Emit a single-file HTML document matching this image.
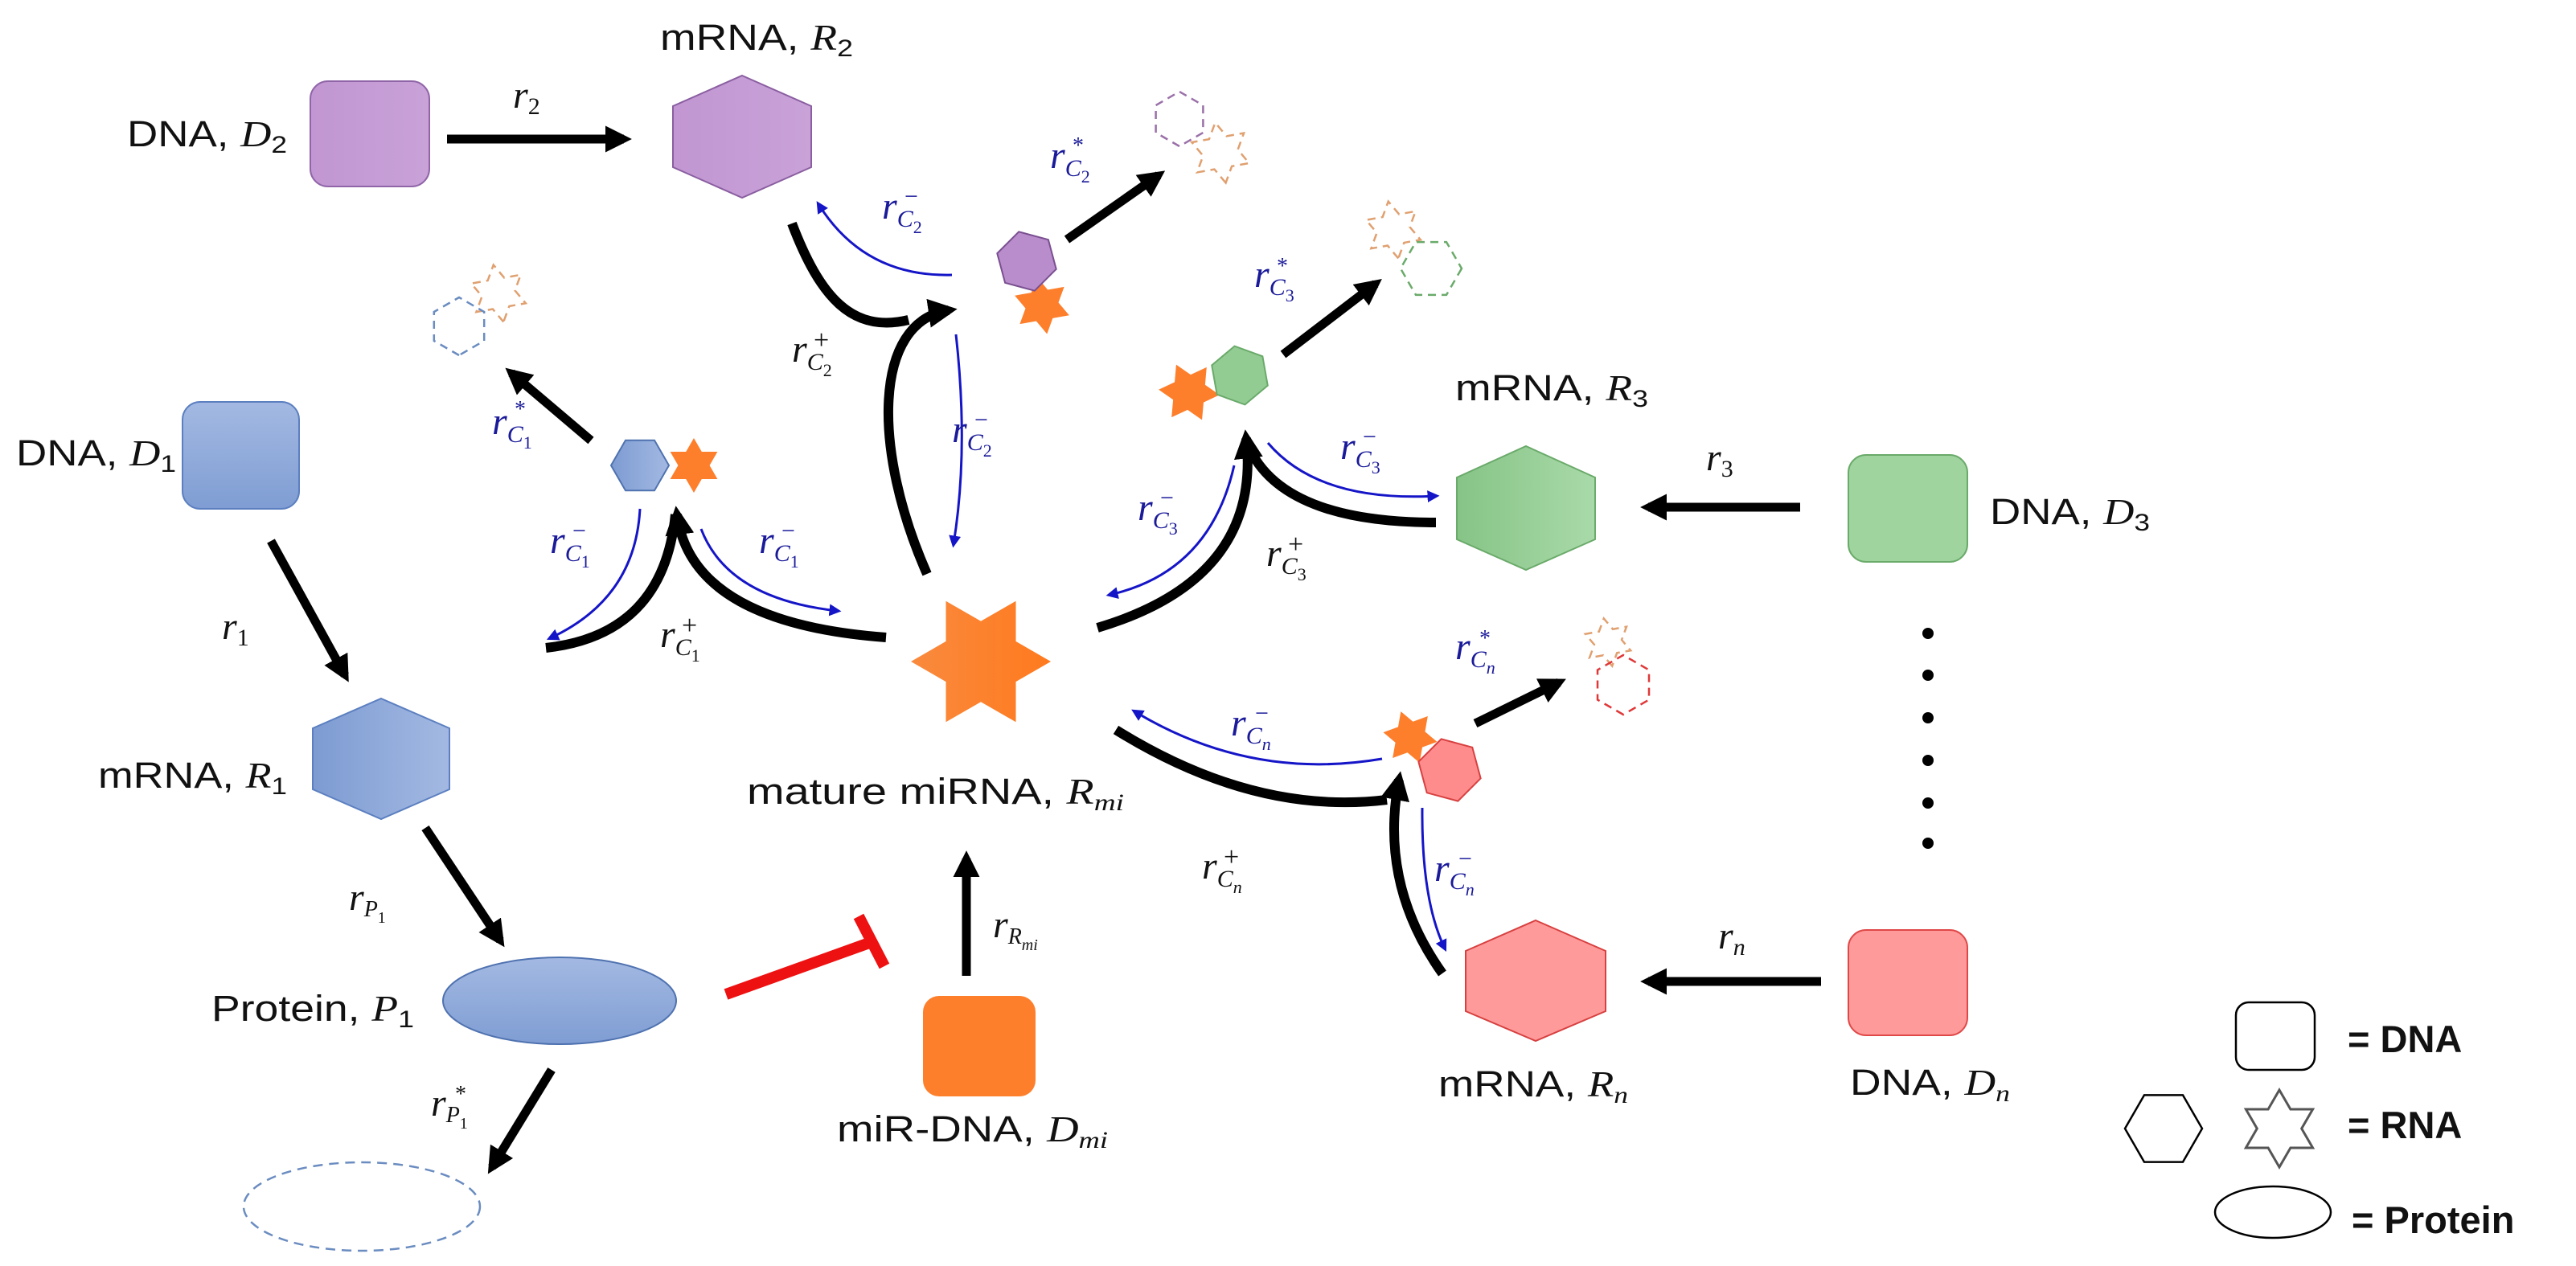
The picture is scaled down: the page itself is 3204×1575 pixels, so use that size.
<!DOCTYPE html>
<html><head><meta charset="utf-8"><style>
html,body{margin:0;padding:0;background:#fff;}
svg{display:block;}
.t{font-family:"Liberation Sans",sans-serif;font-size:45px;fill:#111;}
.m{font-family:"Liberation Serif",serif;font-style:italic;}
.lg{font-family:"Liberation Sans",sans-serif;font-size:47px;font-weight:bold;fill:#111;}
</style></head><body>
<svg width="3204" height="1575" viewBox="0 0 3204 1575" xmlns="http://www.w3.org/2000/svg">
<defs>
<marker id="ab" viewBox="0 0 10 10" refX="7" refY="5" markerWidth="3" markerHeight="3" orient="auto"><path d="M0,0L10,5L0,10z" fill="#000"/></marker>
<marker id="au" viewBox="0 0 10 10" refX="7" refY="5" markerWidth="5" markerHeight="5" orient="auto"><path d="M0,0L10,5L0,10z" fill="#1515c8"/></marker>
<linearGradient id="gb" x1="0" y1="0" x2="1" y2="0"><stop offset="0" stop-color="#7d9bd2"/><stop offset="1" stop-color="#a3b9e2"/></linearGradient>
<linearGradient id="gbv" x1="0" y1="0" x2="0" y2="1"><stop offset="0" stop-color="#a3b9e2"/><stop offset="1" stop-color="#7f9dd3"/></linearGradient>
<linearGradient id="gg" x1="0" y1="0" x2="1" y2="0"><stop offset="0" stop-color="#86c486"/><stop offset="1" stop-color="#a9d9a9"/></linearGradient>
<linearGradient id="gp" x1="0" y1="0" x2="1" y2="0"><stop offset="0" stop-color="#c196d2"/><stop offset="1" stop-color="#c9a2d8"/></linearGradient>
<linearGradient id="go" x1="0" y1="0" x2="1" y2="0"><stop offset="0" stop-color="#f98a3e"/><stop offset="1" stop-color="#ff7a1e"/></linearGradient>
</defs>

<!-- DNA boxes -->
<rect x="386" y="101" width="148" height="131" rx="22" fill="url(#gp)" stroke="#9065a8" stroke-width="2"/>
<rect x="227" y="500" width="145" height="133" rx="22" fill="url(#gbv)" stroke="#5b7fc0" stroke-width="2"/>
<rect x="2299" y="566" width="148" height="133" rx="22" fill="#9fd49f" stroke="#6aaa6a" stroke-width="2"/>
<rect x="2299" y="1157" width="148" height="131" rx="22" fill="#ff9a9a" stroke="#e04848" stroke-width="2"/>
<rect x="1148" y="1239" width="140" height="125" rx="20" fill="#fd7f2c"/>

<!-- mRNA hexes -->
<polygon points="923,94 1009,132 1009,208 923,246 837,208 837,132" fill="url(#gp)" stroke="#8a5ea0" stroke-width="2"/>
<polygon points="474,869 559,906 559,982 474,1019 389,982 389,906" fill="url(#gb)" stroke="#5b7fc0" stroke-width="2"/>
<polygon points="1898,555 1984,594 1984,671 1898,709 1812,671 1812,594" fill="url(#gg)" stroke="#6aaa6a" stroke-width="2"/>
<polygon points="1910,1145 1997,1183 1997,1258 1910,1295 1823,1258 1823,1183" fill="#ff9a9a" stroke="#d84040" stroke-width="2"/>

<!-- protein -->
<ellipse cx="696" cy="1245" rx="145" ry="54" fill="url(#gbv)" stroke="#4f72b0" stroke-width="2"/>
<ellipse cx="450" cy="1501" rx="147" ry="55" fill="none" stroke="#6a8cc0" stroke-width="2.5" stroke-dasharray="12 8"/>

<!-- miRNA star -->
<polygon transform="translate(1220,823)" points="87,0 43.5,25.1 43.5,75.3 0,50.2 -43.5,75.3 -43.5,25.1 -87,0 -43.5,-25.1 -43.5,-75.3 0,-50.2 43.5,-75.3 43.5,-25.1" fill="url(#go)"/>

<!-- complexes -->
<polygon transform="translate(796,579)" points="36,0 18,31.2 -18,31.2 -36,0 -18,-31.2 18,-31.2" fill="url(#gb)" stroke="#4f72b0" stroke-width="2"/>
<polygon transform="translate(863,579) rotate(90)" points="34,0 17,9.8 17,29.4 0,19.6 -17,29.4 -17,9.8 -34,0 -17,-9.8 -17,-29.4 0,-19.6 17,-29.4 17,-9.8" fill="#fd7f2c"/>
<polygon transform="translate(1296,380) rotate(80)" points="36,0 18,10.4 18,31.2 0,20.8 -18,31.2 -18,10.4 -36,0 -18,-10.4 -18,-31.2 0,-20.8 18,-31.2 18,-10.4" fill="#fd7f2c"/>
<polygon transform="translate(1277,325) rotate(15)" points="38,0 19,32.9 -19,32.9 -38,0 -19,-32.9 19,-32.9" fill="#b98ccc" stroke="#7a4f90" stroke-width="2"/>
<polygon transform="translate(1479,488) rotate(5)" points="38,0 19,11 19,32.9 0,21.9 -19,32.9 -19,11 -38,0 -19,-11 -19,-32.9 0,-21.9 19,-32.9 19,-11" fill="#fd7f2c"/>
<polygon transform="translate(1542,467) rotate(20)" points="37,0 18.5,32 -18.5,32 -37,0 -18.5,-32 18.5,-32" fill="#93cc93" stroke="#6aaa6a" stroke-width="2"/>
<polygon transform="translate(1754,917) rotate(10)" points="34,0 17,9.8 17,29.4 0,19.6 -17,29.4 -17,9.8 -34,0 -17,-9.8 -17,-29.4 0,-19.6 17,-29.4 17,-9.8" fill="#fd7f2c"/>
<polygon transform="translate(1803,958) rotate(15)" points="40,0 20,34.6 -20,34.6 -40,0 -20,-34.6 20,-34.6" fill="#ff8c8c" stroke="#d84040" stroke-width="2"/>

<!-- dashed degraded complexes -->
<g fill="none" stroke-width="2.5" stroke-dasharray="10 7">
<polygon transform="translate(620,365) rotate(80)" points="36,0 18,10.4 18,31.2 0,20.8 -18,31.2 -18,10.4 -36,0 -18,-10.4 -18,-31.2 0,-20.8 18,-31.2 18,-10.4" stroke="#e0a070"/>
<polygon transform="translate(571,406) rotate(90)" points="36,0 18,31.2 -18,31.2 -36,0 -18,-31.2 18,-31.2" stroke="#6a8cc0"/>
<polygon transform="translate(1467,148) rotate(90)" points="34,0 17,29.4 -17,29.4 -34,0 -17,-29.4 17,-29.4" stroke="#9a70a8"/>
<polygon transform="translate(1518,190) rotate(80)" points="38,0 19,11 19,32.9 0,21.9 -19,32.9 -19,11 -38,0 -19,-11 -19,-32.9 0,-21.9 19,-32.9 19,-11" stroke="#e0a070"/>
<polygon transform="translate(1733,286) rotate(80)" points="36,0 18,10.4 18,31.2 0,20.8 -18,31.2 -18,10.4 -36,0 -18,-10.4 -18,-31.2 0,-20.8 18,-31.2 18,-10.4" stroke="#e0a070"/>
<polygon transform="translate(1780,334)" points="38,0 19,32.9 -19,32.9 -38,0 -19,-32.9 19,-32.9" stroke="#6aaa6a"/>
<polygon transform="translate(2000,799) rotate(80)" points="30,0 15,8.7 15,26 0,17.3 -15,26 -15,8.7 -30,0 -15,-8.7 -15,-26 0,-17.3 15,-26 15,-8.7" stroke="#e0a070"/>
<polygon transform="translate(2019,852) rotate(90)" points="37,0 18.5,32 -18.5,32 -37,0 -18.5,-32 18.5,-32" stroke="#e03838"/>
</g>

<!-- straight black arrows -->
<g stroke="#000" stroke-width="11" fill="none" marker-end="url(#ab)">
<line x1="556" y1="173" x2="776" y2="173"/>
<line x1="337" y1="673" x2="429" y2="840"/>
<line x1="529" y1="1030" x2="622" y2="1170"/>
<line x1="686" y1="1331" x2="612" y2="1452"/>
<line x1="1202" y1="1214" x2="1202" y2="1068"/>
<line x1="2239" y1="631" x2="2050" y2="631"/>
<line x1="2265" y1="1221" x2="2050" y2="1221"/>
<line x1="735" y1="548" x2="636" y2="464"/>
<line x1="1327" y1="298" x2="1441" y2="218"/>
<line x1="1596" y1="441" x2="1711" y2="353"/>
<line x1="1835" y1="900" x2="1939" y2="849"/>
</g>

<!-- curved black -->
<g stroke="#000" stroke-width="12" fill="none">
<path d="M679,806 Q 825,790 840,640"/>
<path d="M1102,793 Q 860,775 842,640" marker-end="url(#ab)"/>
<path d="M985,278 C 1020,370 1060,415 1130,398"/>
<path d="M1153,714 C 1085,560 1085,400 1180,386" marker-end="url(#ab)"/>
<path d="M1786,650 Q 1600,650 1555,560"/>
<path d="M1365,781 Q 1570,720 1550,545" marker-end="url(#ab)"/>
<path d="M1388,908 Q 1560,1015 1725,995"/>
<path d="M1794,1211 Q 1715,1100 1740,970" marker-end="url(#ab)"/>
</g>

<!-- blue thin arrows -->
<g stroke="#1515c8" stroke-width="3" fill="none" marker-end="url(#au)">
<path d="M796,633 Q 790,745 684,794"/>
<path d="M872,658 Q 905,745 1042,760"/>
<path d="M1184,342 Q 1075,345 1018,254"/>
<path d="M1189,416 Q 1205,560 1186,677"/>
<path d="M1577,551 Q 1640,625 1786,617"/>
<path d="M1535,579 Q 1505,712 1380,740"/>
<path d="M1719,944 Q 1555,972 1411,885"/>
<path d="M1769,1005 Q 1768,1120 1797,1180"/>
</g>

<!-- red inhibition -->
<g stroke="#ee1111" stroke-width="14">
<line x1="903" y1="1237" x2="1084" y2="1172"/>
<line x1="1068" y1="1140" x2="1100" y2="1202"/>
</g>

<!-- dots -->
<g fill="#000">
<circle cx="2398" cy="788" r="7"/><circle cx="2398" cy="840" r="7"/><circle cx="2398" cy="893" r="7"/><circle cx="2398" cy="946" r="7"/><circle cx="2398" cy="999" r="7"/><circle cx="2398" cy="1049" r="7"/>
</g>

<!-- node labels -->
<text class="t" x="158" y="182" textLength="199" lengthAdjust="spacingAndGlyphs">DNA, <tspan class="m">D</tspan><tspan font-size="30" dy="8">2</tspan></text>
<text class="t" x="821" y="62" textLength="240" lengthAdjust="spacingAndGlyphs">mRNA, <tspan class="m">R</tspan><tspan font-size="30" dy="8">2</tspan></text>
<text class="t" x="20" y="579" textLength="199" lengthAdjust="spacingAndGlyphs">DNA, <tspan class="m">D</tspan><tspan font-size="30" dy="8">1</tspan></text>
<text class="t" x="122" y="980" textLength="235" lengthAdjust="spacingAndGlyphs">mRNA, <tspan class="m">R</tspan><tspan font-size="30" dy="8">1</tspan></text>
<text class="t" x="263" y="1270" textLength="252" lengthAdjust="spacingAndGlyphs">Protein, <tspan class="m">P</tspan><tspan font-size="30" dy="8">1</tspan></text>
<text class="t" x="929" y="1000" textLength="469" lengthAdjust="spacingAndGlyphs">mature miRNA, <tspan class="m">R</tspan><tspan class="m" font-size="30" dy="8">mi</tspan></text>
<text class="t" x="1041" y="1420" textLength="337" lengthAdjust="spacingAndGlyphs">miR-DNA, <tspan class="m">D</tspan><tspan class="m" font-size="30" dy="8">mi</tspan></text>
<text class="t" x="1810" y="498" textLength="240" lengthAdjust="spacingAndGlyphs">mRNA, <tspan class="m">R</tspan><tspan font-size="30" dy="8">3</tspan></text>
<text class="t" x="2475" y="652" textLength="199" lengthAdjust="spacingAndGlyphs">DNA, <tspan class="m">D</tspan><tspan font-size="30" dy="8">3</tspan></text>
<text class="t" x="1789" y="1364" textLength="236" lengthAdjust="spacingAndGlyphs">mRNA, <tspan class="m">R</tspan><tspan class="m" font-size="30" dy="8">n</tspan></text>
<text class="t" x="2301" y="1362" textLength="199" lengthAdjust="spacingAndGlyphs">DNA, <tspan class="m">D</tspan><tspan class="m" font-size="30" dy="8">n</tspan></text>

<!-- rate labels (black) -->
<g font-family="'Liberation Serif',serif" fill="#111">
<text x="638" y="134" font-size="48" font-style="italic">r<tspan font-size="30" font-style="normal" dy="8">2</tspan></text>
<text x="276" y="795" font-size="48" font-style="italic">r<tspan font-size="30" font-style="normal" dy="8">1</tspan></text>
<text x="2122" y="585" font-size="48" font-style="italic">r<tspan font-size="30" font-style="normal" dy="8">3</tspan></text>
<text x="2137" y="1180" font-size="48" font-style="italic">r<tspan font-size="30" dy="8">n</tspan></text>
<text x="434" y="1132" font-size="48" font-style="italic">r<tspan font-size="28" dy="8">P</tspan><tspan font-size="20" font-style="normal" dy="8">1</tspan></text>
<text x="536" y="1388" font-size="48" font-style="italic">r<tspan font-size="28" dy="8">P</tspan><tspan font-size="20" font-style="normal" dy="8">1</tspan></text>
<text x="566" y="1370" font-size="28">*</text>
<text x="1235" y="1166" font-size="48" font-style="italic">r<tspan font-size="28" dy="8">R</tspan><tspan font-size="20" dy="8">mi</tspan></text>
<text x="985" y="450" font-size="48" font-style="italic">r<tspan font-size="30" dy="10">C</tspan><tspan font-size="22" font-style="normal" dy="8">2</tspan></text>
<text x="1012" y="434" font-size="34">+</text>
<text x="821" y="805" font-size="48" font-style="italic">r<tspan font-size="30" dy="10">C</tspan><tspan font-size="22" font-style="normal" dy="8">1</tspan></text>
<text x="848" y="789" font-size="34">+</text>
<text x="1575" y="704" font-size="48" font-style="italic">r<tspan font-size="30" dy="10">C</tspan><tspan font-size="22" font-style="normal" dy="8">3</tspan></text>
<text x="1602" y="688" font-size="34">+</text>
<text x="1495" y="1093" font-size="48" font-style="italic">r<tspan font-size="30" dy="10">C</tspan><tspan font-size="22" dy="8">n</tspan></text>
<text x="1522" y="1077" font-size="34">+</text>
</g>

<!-- rate labels (blue) -->
<g font-family="'Liberation Serif',serif" fill="#1a1a9a">
<text x="1306" y="209" font-size="48" font-style="italic">r<tspan font-size="30" dy="10">C</tspan><tspan font-size="22" font-style="normal" dy="8">2</tspan></text><text x="1334" y="190" font-size="28">*</text>
<text x="1097" y="272" font-size="48" font-style="italic">r<tspan font-size="30" dy="10">C</tspan><tspan font-size="22" font-style="normal" dy="8">2</tspan></text><text x="1125" y="254" font-size="30">−</text>
<text x="1184" y="550" font-size="48" font-style="italic">r<tspan font-size="30" dy="10">C</tspan><tspan font-size="22" font-style="normal" dy="8">2</tspan></text><text x="1212" y="532" font-size="30">−</text>
<text x="612" y="540" font-size="48" font-style="italic">r<tspan font-size="30" dy="10">C</tspan><tspan font-size="22" font-style="normal" dy="8">1</tspan></text><text x="640" y="518" font-size="28">*</text>
<text x="684" y="688" font-size="48" font-style="italic">r<tspan font-size="30" dy="10">C</tspan><tspan font-size="22" font-style="normal" dy="8">1</tspan></text><text x="712" y="670" font-size="30">−</text>
<text x="944" y="688" font-size="48" font-style="italic">r<tspan font-size="30" dy="10">C</tspan><tspan font-size="22" font-style="normal" dy="8">1</tspan></text><text x="972" y="670" font-size="30">−</text>
<text x="1560" y="357" font-size="48" font-style="italic">r<tspan font-size="30" dy="10">C</tspan><tspan font-size="22" font-style="normal" dy="8">3</tspan></text><text x="1588" y="340" font-size="28">*</text>
<text x="1667" y="571" font-size="48" font-style="italic">r<tspan font-size="30" dy="10">C</tspan><tspan font-size="22" font-style="normal" dy="8">3</tspan></text><text x="1695" y="553" font-size="30">−</text>
<text x="1415" y="647" font-size="48" font-style="italic">r<tspan font-size="30" dy="10">C</tspan><tspan font-size="22" font-style="normal" dy="8">3</tspan></text><text x="1443" y="629" font-size="30">−</text>
<text x="1810" y="820" font-size="48" font-style="italic">r<tspan font-size="30" dy="10">C</tspan><tspan font-size="22" dy="8">n</tspan></text><text x="1840" y="803" font-size="28">*</text>
<text x="1531" y="915" font-size="48" font-style="italic">r<tspan font-size="30" dy="10">C</tspan><tspan font-size="22" dy="8">n</tspan></text><text x="1561" y="897" font-size="30">−</text>
<text x="1784" y="1096" font-size="48" font-style="italic">r<tspan font-size="30" dy="10">C</tspan><tspan font-size="22" dy="8">n</tspan></text><text x="1814" y="1078" font-size="30">−</text>
</g>

<!-- legend -->
<rect x="2781" y="1247" width="98" height="84" rx="16" fill="#fff" stroke="#000" stroke-width="2.5"/>
<polygon transform="translate(2691,1404)" points="48,0 24,41.6 -24,41.6 -48,0 -24,-41.6 24,-41.6" fill="#fff" stroke="#000" stroke-width="2.5"/>
<polygon transform="translate(2835,1404) rotate(90)" points="48,0 24,13.9 24,41.6 0,27.7 -24,41.6 -24,13.9 -48,0 -24,-13.9 -24,-41.6 0,-27.7 24,-41.6 24,-13.9" fill="#fff" stroke="#555" stroke-width="3"/>
<ellipse cx="2827" cy="1508" rx="72" ry="32" fill="#fff" stroke="#000" stroke-width="2.5"/>
<text class="lg" x="2920" y="1309">= DNA</text>
<text class="lg" x="2920" y="1416">= RNA</text>
<text class="lg" x="2925" y="1534">= Protein</text>
</svg>
</body></html>
